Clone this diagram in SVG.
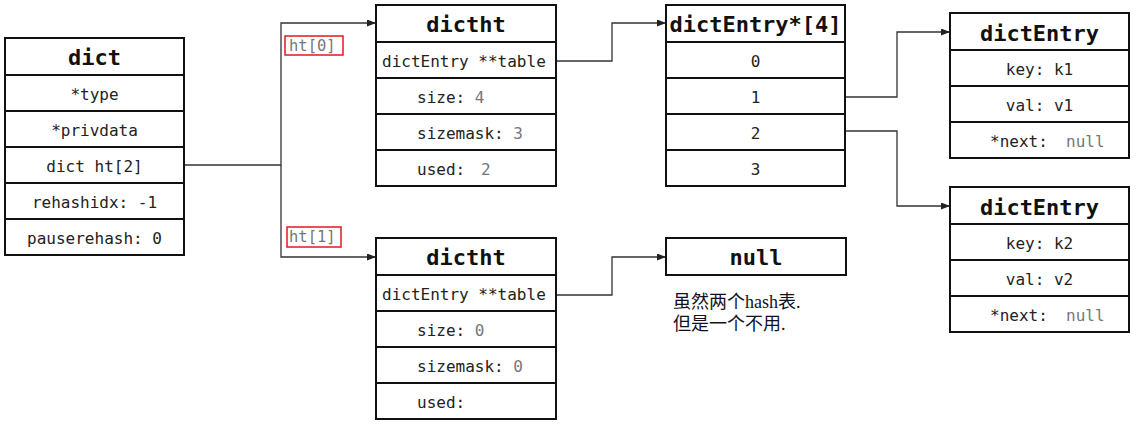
<svg xmlns="http://www.w3.org/2000/svg" width="1137" height="424" viewBox="0 0 1137 424">
<style>
.box{fill:#fff;stroke:#111;stroke-width:2}
.sep{stroke:#111;stroke-width:2}
.t{font-family:"DejaVu Sans Mono","Liberation Mono",monospace;font-size:22px;font-weight:bold;fill:#111;text-anchor:middle}
.r{font-family:"DejaVu Sans Mono","Liberation Mono",monospace;font-size:16px;fill:#222}
.c{text-anchor:middle}
.g{fill:#777}
.conn{fill:none;stroke:#333;stroke-width:1.3}
.lab{fill:none;stroke:#e21a1a;stroke-width:1.5}
.note{font-family:"Liberation Serif","Noto Sans CJK SC",serif;font-size:18px;fill:#112}
</style>
<defs>
<marker id="arr" markerUnits="userSpaceOnUse" markerWidth="9" markerHeight="7" refX="9" refY="3.5" orient="auto">
<path d="M0,0 L9,3.5 L0,7 z" fill="#222"/>
</marker>
</defs>
<rect width="1137" height="424" fill="#fff"/>

<g id="connectors">
<path class="conn" d="M184,165 H281 V23 H376" marker-end="url(#arr)"/>
<path class="conn" d="M281,165 V257 H376" marker-end="url(#arr)"/>
<path class="conn" d="M556,61 H612 V23 H666" marker-end="url(#arr)"/>
<path class="conn" d="M556,295 H612 V257 H666" marker-end="url(#arr)"/>
<path class="conn" d="M845,97 H897 V32 H950" marker-end="url(#arr)"/>
<path class="conn" d="M845,131 H897 V206 H950" marker-end="url(#arr)"/>
</g>

<g id="label-ht0">
<rect class="lab" x="285" y="36" width="58" height="19"/>
<text class="r g" x="289" y="51" style="font-size:15.5px">ht[0]</text>
</g>
<g id="label-ht1">
<rect class="lab" x="287" y="227" width="54" height="20"/>
<text class="r g" x="289" y="242" style="font-size:15.5px">ht[1]</text>
</g>

<g id="dict">
<rect class="box" x="5" y="38" width="179" height="217"/>
<path class="sep" d="M5,75 H184 M5,111 H184 M5,147 H184 M5,183 H184 M5,219 H184"/>
<text class="t" x="94.5" y="65">dict</text>
<text class="r c" x="94.5" y="100">*type</text>
<text class="r c" x="94.5" y="136">*privdata</text>
<text class="r c" x="94.5" y="172">dict ht[2]</text>
<text class="r c" x="94.5" y="208">rehashidx: -1</text>
<text class="r c" x="94.5" y="244">pauserehash: 0</text>
</g>

<g id="dictht0">
<rect class="box" x="376" y="5" width="180" height="181"/>
<path class="sep" d="M376,42 H556 M376,78 H556 M376,114 H556 M376,150 H556"/>
<text class="t" x="466" y="32">dictht</text>
<text class="r" x="382" y="67">dictEntry **table</text>
<text class="r" x="417" y="103">size: <tspan class="g">4</tspan></text>
<text class="r" x="417" y="139">sizemask: <tspan class="g">3</tspan></text>
<text class="r" x="417" y="175">used: <tspan class="g" x="481">2</tspan></text>
</g>

<g id="dictht1">
<rect class="box" x="376" y="238" width="180" height="181"/>
<path class="sep" d="M376,275 H556 M376,311 H556 M376,347 H556 M376,383 H556"/>
<text class="t" x="466" y="265">dictht</text>
<text class="r" x="382" y="300">dictEntry **table</text>
<text class="r" x="417" y="336">size: <tspan class="g">0</tspan></text>
<text class="r" x="417" y="372">sizemask: <tspan class="g">0</tspan></text>
<text class="r" x="417" y="408">used:</text>
</g>

<g id="table-array">
<rect class="box" x="666" y="5" width="179" height="181"/>
<path class="sep" d="M666,42 H845 M666,78 H845 M666,114 H845 M666,150 H845"/>
<text class="t" x="755.5" y="32">dictEntry*[4]</text>
<text class="r c" x="755.5" y="67">0</text>
<text class="r c" x="755.5" y="103">1</text>
<text class="r c" x="755.5" y="139">2</text>
<text class="r c" x="755.5" y="175">3</text>
</g>

<g id="null-box">
<rect class="box" x="666" y="238" width="180" height="37"/>
<text class="t" x="756" y="265">null</text>
</g>

<g id="note">
<text class="note" x="673" y="308">虽然两个hash表.</text>
<text class="note" x="673" y="330">但是一个不用.</text>
</g>

<g id="dictEntry1">
<rect class="box" x="950" y="13" width="179" height="145"/>
<path class="sep" d="M950,50 H1129 M950,86 H1129 M950,122 H1129"/>
<text class="t" x="1039.5" y="41">dictEntry</text>
<text class="r c" x="1039.5" y="75">key: k1</text>
<text class="r c" x="1039.5" y="111">val: v1</text>
<text class="r" x="990" y="147">*next: <tspan class="g" x="1066">null</tspan></text>
</g>

<g id="dictEntry2">
<rect class="box" x="950" y="187" width="179" height="145"/>
<path class="sep" d="M950,224 H1129 M950,260 H1129 M950,296 H1129"/>
<text class="t" x="1039.5" y="215">dictEntry</text>
<text class="r c" x="1039.5" y="249">key: k2</text>
<text class="r c" x="1039.5" y="285">val: v2</text>
<text class="r" x="990" y="321">*next: <tspan class="g" x="1066">null</tspan></text>
</g>
</svg>
